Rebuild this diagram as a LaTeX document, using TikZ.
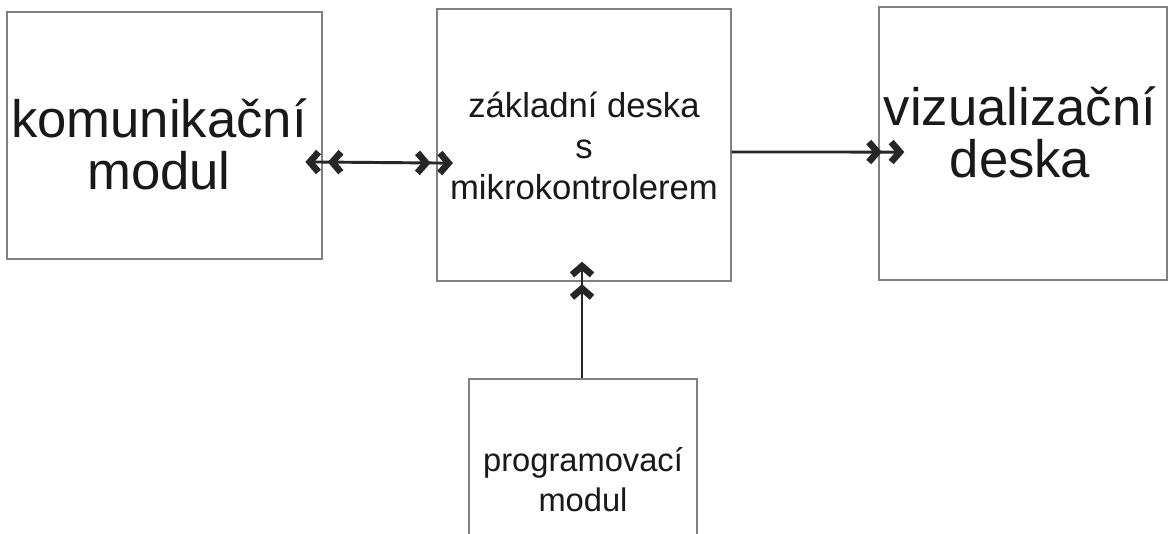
\documentclass[tikz,border=0pt]{standalone}
\usepackage{fontspec}
\setmainfont{Liberation Sans}
\usetikzlibrary{arrows.meta}
\begin{document}
\begin{tikzpicture}[x=0.75pt,y=-0.75pt,
  >={Straight Barb[length=6.5pt,width=15pt,line width=5pt,sep=4.5pt,sharp]},
  box/.style={draw=black!50,line width=1.1pt,inner sep=0pt},
  bigtxt/.style={font=\fontsize{39.5}{39}\selectfont,align=center,text=black!90},
  midtxt/.style={font=\fontsize{26}{30.5}\selectfont,align=center,text=black!90},
  smalltxt/.style={font=\fontsize{24.5}{30}\selectfont,align=center,text=black!90},
  conn/.style={draw=black!85,line width=2.2pt}]
\useasboundingbox (0,0) rectangle (1170,533);
\clip (0,0) rectangle (1170,533);
\fill[white] (0,0) rectangle (1170,533);
\node[box,minimum width=315*0.75pt,minimum height=247*0.75pt] (kom) at (164.5,135.5) {};
\node[box,minimum width=294*0.75pt,minimum height=272*0.75pt] (zak) at (584,145) {};
\node[box,minimum width=288*0.75pt,minimum height=273*0.75pt] (viz) at (1023,143.5) {};
\node[box,minimum width=228*0.75pt,minimum height=170*0.75pt] (prg) at (583,464) {};
\node[bigtxt] (tkom) at (159,144) {komunikační\\modul};
\node[midtxt] (tzak) at (584,146) {základní deska\\s\\mikrokontrolerem};
\node[bigtxt] (tviz) at (1020,132) {vizualizační\\deska};
\node[smalltxt] (tprg) at (583,480) {programovací\\modul};
\draw[conn,<<->>,shorten <=-17.5pt,shorten >=-17pt]
  ([yshift=-19.9pt]kom.east) -- ([yshift=-13.5pt]zak.west);
\draw[conn,->>,shorten >=-24pt]
  ([yshift=-5.25pt]zak.east) -- ([yshift=-6.4pt]viz.west);
\draw[conn,->>,shorten >=-19.5pt]
  ([xshift=-0.75pt]prg.north) -- ([xshift=-0.75pt]prg.north |- zak.south);
\end{tikzpicture}
\end{document}
